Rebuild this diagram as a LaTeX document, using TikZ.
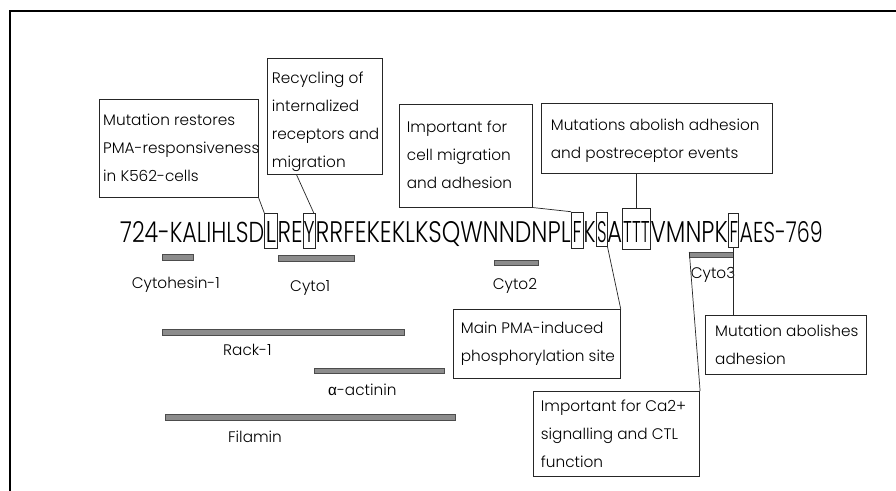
\documentclass[tikz,border=0pt]{standalone}
\usepackage{fontspec}
\usepackage{graphicx}
\IfFontExistsTF{Poppins Light}{\setmainfont{Poppins Light}}{\setmainfont{Poppins}}
\newfontfamily\grk{Liberation Sans}
\usetikzlibrary{calc}
\newcommand{\lblfont}{\fontsize{15.3}{28}\selectfont}
\newcommand{\sqchunk}[2]{\resizebox{#1pt}{21pt}{#2}}
\tikzset{
  frame/.style={draw=black!85, line width=0.8pt, fill=white, inner sep=0pt, anchor=north west},
  btext/.style={align=left, inner sep=0pt, font=\lblfont, anchor=west},
  lbl/.style={inner sep=0pt, font=\lblfont, anchor=base west},
  seq/.style={inner sep=0pt, anchor=base west},
  lbox2/.style={draw=black!85, line width=0.8pt, inner sep=0pt, anchor=north west},
  bar/.style={draw=black!70, fill=black!45, line width=0.6pt, inner sep=0pt, anchor=north west},
  conn/.style={draw=black!85, line width=0.7pt}
}
\begin{document}
\begin{tikzpicture}[x=1pt,y=-1pt]
\useasboundingbox (0,0) rectangle (896,490);
\fill[white] (0,0) rectangle (896,490);
\draw[line width=2pt] (910,11) -- (10,11) -- (10,500);

% sequence
\node[seq] (s1) at (120,242.5) {\sqchunk{144}{724-KALIHLSD}};
\node[seq] (s2) at (265.5,242.5) {\sqchunk{10.5}{L}};
\node[seq] (s3) at (277.5,242.5) {\sqchunk{25}{RE}};
\node[seq] (s4) at (303.5,242.5) {\sqchunk{11}{Y}};
\node[seq] (s5) at (315.5,242.5) {\sqchunk{255}{RRFEKEKLKSQWNNDNPL}};
\node[seq] (s6) at (572.5,242.5) {\sqchunk{9}{F}};
\node[seq] (s7) at (583.5,242.5) {\sqchunk{12}{K}};
\node[seq] (s8) at (597,242.5) {\sqchunk{9.5}{S}};
\node[seq] (s9) at (607,242.5) {\sqchunk{15}{A}};
\node[seq] (s10) at (623,242.5) {\sqchunk{26.5}{TTT}};
\node[seq] (s11) at (650.5,242.5) {\sqchunk{77}{VMNPK}};
\node[seq] (s12) at (729.5,242.5) {\sqchunk{8.5}{F}};
\node[seq] (s13) at (739.5,242.5) {\sqchunk{83}{AES-769}};

% letter boxes
\node[lbox2, minimum width=12.7, minimum height=35] (bL) at (264.3,213) {};
\node[lbox2, minimum width=12.3, minimum height=35] (bY) at (302.7,213) {};
\node[lbox2, minimum width=11.7, minimum height=36.3] (bF1) at (571,211.7) {};
\node[lbox2, minimum width=10.7, minimum height=34] (bS) at (596,212) {};
\node[lbox2, minimum width=27.7, minimum height=41] (bT) at (622.3,208) {};
\node[lbox2, minimum width=10.6, minimum height=34] (bF2) at (727.7,213) {};

% bars
\node[bar, minimum width=31.6, minimum height=6] (cytoh) at (161.7,254.3) {};
\node[bar, minimum width=75.7, minimum height=6] (cyto1) at (278.3,255) {};
\node[bar, minimum width=44, minimum height=5] (cyto2) at (494.3,260) {};
\node[bar, minimum width=43.4, minimum height=5] (cyto3) at (689.3,252) {};
\node[bar, minimum width=242.3, minimum height=5.7] (rack) at (162,329.3) {};
\node[bar, minimum width=130.3, minimum height=5.6] (actn) at (314,367.7) {};
\node[bar, minimum width=290, minimum height=5.6] (filam) at (165,414) {};

% bar labels
\node[lbl] (tcytoh) at (131.7,288) {Cytohesin-1};
\node[lbl] (tcyto1) at (290,291) {Cyto1};
\node[lbl] (tcyto2) at (492.7,289) {Cyto2};
\node[lbl] (tcyto3) at (690.7,278) {Cyto3};
\node[lbl] (track) at (223,355) {Rack-1};
\node[lbl] (tactn) at (328,395) {{\grk α}-actinin};
\node[lbl] (tfilam) at (228,442) {Filamin};

% annotation boxes
\node[frame, minimum width=158.7, minimum height=97.7] (boxA) at (99,99) {};
\node[btext] (tA) at ($(boxA.west)+(4,0)$) {Mutation restores\\PMA-responsiveness\\in K562-cells};
\node[frame, minimum width=115, minimum height=116.3] (boxB) at (266.7,58) {};
\node[btext] (tB) at ($(boxB.west)+(5,5)$) {Recycling of\\internalized\\receptors and\\migration};
\node[frame, minimum width=132.7, minimum height=102.4] (boxC) at (399,104.3) {};
\node[btext] (tC) at ($(boxC.west)+(7.7,-1)$) {Important for\\cell migration\\and adhesion};
\node[frame, minimum width=231, minimum height=70] (boxD) at (540.7,102.7) {};
\node[btext] (tD) at ($(boxD.west)+(10,3)$) {Mutations abolish adhesion\\and postreceptor events};
\node[frame, minimum width=167.3, minimum height=68.4] (boxE) at (452.7,309.3) {};
\node[btext] (tE) at ($(boxE.west)+(8,0)$) {Main PMA-induced\\phosphorylation site};
\node[frame, minimum width=161, minimum height=59] (boxF) at (705,315) {};
\node[btext] (tF) at ($(boxF.west)+(10,0)$) {Mutation abolishes\\adhesion};
\node[frame, minimum width=166.6, minimum height=85] (boxG) at (532.7,391) {};
\node[btext] (tG) at ($(boxG.west)+(8,0)$) {Important for Ca2+\\signalling and CTL\\function};

% connectors
\draw[conn] (boxA.south east) -- (bL.north west);
\draw[conn] ($(boxB.south west)+(30,0)$) -- ($(bY.north east)+(-2,0)$);
\draw[conn] (boxC.south east) -- (bF1.north west);
\draw[conn] (bT.north) -- (bT.north |- boxD.south);
\draw[conn] (boxE.north east) -- (bS.south east);
\draw[conn] (bF2.south) -- (bF2.south |- boxF.north);
\draw[conn] (boxG.north east) -- (cyto3.north west);
\end{tikzpicture}
\end{document}
